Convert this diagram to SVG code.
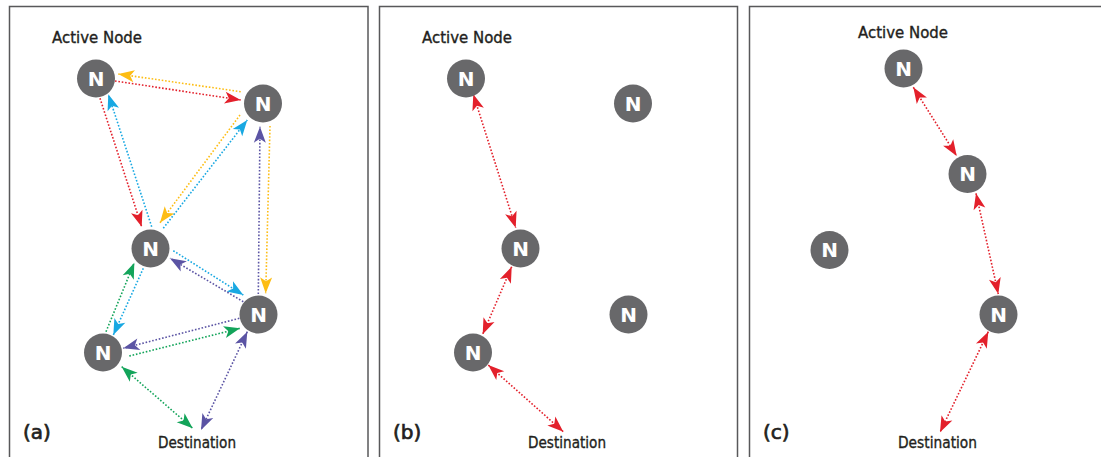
<svg xmlns="http://www.w3.org/2000/svg" width="1101" height="457" viewBox="0 0 1101 457">
<style>
.panel{fill:#fff;stroke:#58585a;stroke-width:1.5}
.node circle{fill:#68686a}
.node text{fill:#fff;font-family:"DejaVu Sans",sans-serif;font-weight:bold;font-size:20px;text-anchor:middle}
.lbl{fill:#231f20;stroke:#231f20;stroke-width:0.35;font-family:"DejaVu Sans",sans-serif;font-size:15px}
.tag{fill:#231f20;stroke:#231f20;stroke-width:0.7;font-family:"DejaVu Sans",sans-serif;font-size:20px}
.c line{fill:none;stroke-width:1.6;stroke-dasharray:1.6 1.8}
.r{stroke:#e3202b}.y{stroke:#fdbd14}.b{stroke:#18a8e2}.p{stroke:#5b54a4}.g{stroke:#13a45a}
</style>
<defs>
<marker id="mr" viewBox="-17 -7 18 14" refX="0" refY="0" markerWidth="18" markerHeight="14" markerUnits="userSpaceOnUse" orient="auto-start-reverse"><path d="M0,0 L-16,-6 L-12,0 L-16,6 Z" fill="#e3202b"/></marker>
<marker id="my" viewBox="-17 -7 18 14" refX="0" refY="0" markerWidth="18" markerHeight="14" markerUnits="userSpaceOnUse" orient="auto-start-reverse"><path d="M0,0 L-16,-6 L-12,0 L-16,6 Z" fill="#fdbd14"/></marker>
<marker id="mb" viewBox="-17 -7 18 14" refX="0" refY="0" markerWidth="18" markerHeight="14" markerUnits="userSpaceOnUse" orient="auto-start-reverse"><path d="M0,0 L-16,-6 L-12,0 L-16,6 Z" fill="#18a8e2"/></marker>
<marker id="mp" viewBox="-17 -7 18 14" refX="0" refY="0" markerWidth="18" markerHeight="14" markerUnits="userSpaceOnUse" orient="auto-start-reverse"><path d="M0,0 L-16,-6 L-12,0 L-16,6 Z" fill="#5b54a4"/></marker>
<marker id="mg" viewBox="-17 -7 18 14" refX="0" refY="0" markerWidth="18" markerHeight="14" markerUnits="userSpaceOnUse" orient="auto-start-reverse"><path d="M0,0 L-16,-6 L-12,0 L-16,6 Z" fill="#13a45a"/></marker>
</defs>
<rect width="1101" height="457" fill="#fff"/>
<g id="panels">
<rect class="panel" x="9.5" y="6.5" width="358.5" height="460"/>
<rect class="panel" x="379.5" y="6.5" width="358" height="460"/>
<rect class="panel" x="749.5" y="6.5" width="360" height="460"/>
</g>
<g id="labels">
<text class="lbl" x="52" y="43" textLength="90" lengthAdjust="spacingAndGlyphs">Active Node</text>
<text class="lbl" x="158" y="447.5" textLength="78" lengthAdjust="spacingAndGlyphs">Destination</text>
<text class="tag" x="23" y="439">(a)</text>
<text class="lbl" x="422" y="43" textLength="90" lengthAdjust="spacingAndGlyphs">Active Node</text>
<text class="lbl" x="528" y="447.5" textLength="78" lengthAdjust="spacingAndGlyphs">Destination</text>
<text class="tag" x="393" y="439">(b)</text>
<text class="lbl" x="858" y="37.5" textLength="90" lengthAdjust="spacingAndGlyphs">Active Node</text>
<text class="lbl" x="898" y="447.5" textLength="79" lengthAdjust="spacingAndGlyphs">Destination</text>
<text class="tag" x="763" y="439">(c)</text>
</g>
<g id="connectors" class="c">
<line class="y" x1="240.7" y1="91.7" x2="118.3" y2="74" marker-end="url(#my)"/>
<line class="r" x1="115" y1="81" x2="240.7" y2="100" marker-end="url(#mr)"/>
<line class="r" x1="100" y1="98.3" x2="141.7" y2="226.7" marker-end="url(#mr)"/>
<line class="b" x1="151.7" y1="226.7" x2="108.3" y2="94.3" marker-end="url(#mb)"/>
<line class="y" x1="240" y1="115" x2="160" y2="222.7" marker-end="url(#my)"/>
<line class="b" x1="163.3" y1="228.3" x2="247.3" y2="120" marker-end="url(#mb)"/>
<line class="p" x1="258.3" y1="294" x2="260" y2="126.7" marker-end="url(#mp)"/>
<line class="y" x1="270" y1="126" x2="265.7" y2="293.3" marker-end="url(#my)"/>
<line class="b" x1="173.3" y1="250.7" x2="243.3" y2="295" marker-end="url(#mb)"/>
<line class="p" x1="243.3" y1="301.7" x2="170" y2="258.3" marker-end="url(#mp)"/>
<line class="g" x1="106" y1="331.7" x2="134.3" y2="262.7" marker-end="url(#mg)"/>
<line class="b" x1="143.3" y1="268.3" x2="113.3" y2="335" marker-end="url(#mb)"/>
<line class="p" x1="239.3" y1="318.3" x2="123.3" y2="348.3" marker-end="url(#mp)"/>
<line class="g" x1="129.3" y1="356" x2="240" y2="328.3" marker-end="url(#mg)"/>
<line class="g" x1="121.7" y1="366.7" x2="192.7" y2="428.3" marker-start="url(#mg)" marker-end="url(#mg)"/>
<line class="p" x1="247.3" y1="331.7" x2="201" y2="430" marker-start="url(#mp)" marker-end="url(#mp)"/>
<line class="r" x1="473.3" y1="94.3" x2="515.7" y2="227.7" marker-start="url(#mr)" marker-end="url(#mr)"/>
<line class="r" x1="511.7" y1="266.7" x2="482.7" y2="334.3" marker-start="url(#mr)" marker-end="url(#mr)"/>
<line class="r" x1="488.3" y1="365" x2="563.3" y2="431.7" marker-start="url(#mr)" marker-end="url(#mr)"/>
<line class="r" x1="913.3" y1="87.3" x2="956.7" y2="156" marker-start="url(#mr)" marker-end="url(#mr)"/>
<line class="r" x1="976" y1="193.3" x2="998.3" y2="294" marker-start="url(#mr)" marker-end="url(#mr)"/>
<line class="r" x1="988.3" y1="331.7" x2="940" y2="432.3" marker-start="url(#mr)" marker-end="url(#mr)"/>
</g>
<g id="a1" class="node"><circle cx="96" cy="78.5" r="19"/><text x="96" y="85.8">N</text></g>
<g id="a2" class="node"><circle cx="263" cy="103.5" r="19"/><text x="263" y="110.8">N</text></g>
<g id="a3" class="node"><circle cx="150.5" cy="248.5" r="19"/><text x="150.5" y="255.8">N</text></g>
<g id="a4" class="node"><circle cx="258.5" cy="314.5" r="19"/><text x="258.5" y="321.8">N</text></g>
<g id="a5" class="node"><circle cx="103" cy="352.5" r="19"/><text x="103" y="359.8">N</text></g>
<g id="b1" class="node"><circle cx="466" cy="78.5" r="19"/><text x="466" y="85.8">N</text></g>
<g id="b2" class="node"><circle cx="633" cy="103.5" r="19"/><text x="633" y="110.8">N</text></g>
<g id="b3" class="node"><circle cx="520.5" cy="248.5" r="19"/><text x="520.5" y="255.8">N</text></g>
<g id="b4" class="node"><circle cx="628.5" cy="314.5" r="19"/><text x="628.5" y="321.8">N</text></g>
<g id="b5" class="node"><circle cx="473" cy="352.5" r="19"/><text x="473" y="359.8">N</text></g>
<g id="c1" class="node"><circle cx="903.5" cy="68.5" r="19"/><text x="903.5" y="75.8">N</text></g>
<g id="c2" class="node"><circle cx="967.5" cy="174" r="19"/><text x="967.5" y="181.3">N</text></g>
<g id="c3" class="node"><circle cx="829.5" cy="250" r="19"/><text x="829.5" y="257.3">N</text></g>
<g id="c4" class="node"><circle cx="998.5" cy="314.5" r="19"/><text x="998.5" y="321.8">N</text></g>
</svg>
